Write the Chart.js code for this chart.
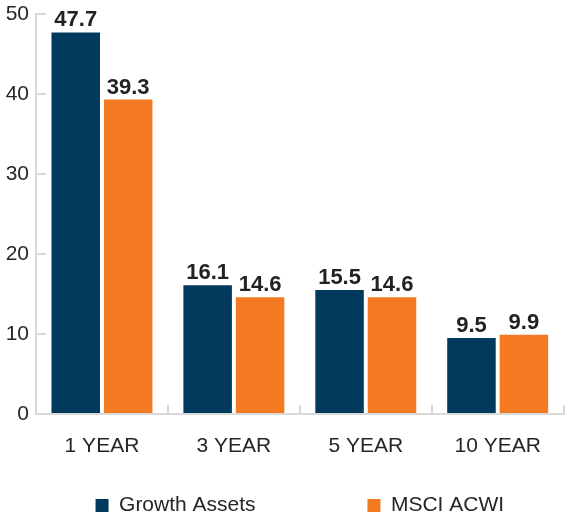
<!DOCTYPE html>
<html>
<head>
<meta charset="utf-8">
<script src="https://cdn.jsdelivr.net/npm/chart.js@4.4.1/dist/chart.umd.min.js"></script>
<style>
  html, body { margin: 0; padding: 0; background: #ffffff; }
  #wrap { width: 570px; height: 517px; position: relative; }
</style>
</head>
<body>
<div id="wrap"><canvas id="barChart"></canvas></div>
<script>
// dados do gráfico
var categorias = ['1 YEAR', '3 YEAR', '5 YEAR', '10 YEAR'];
var growthAssets = [47.7, 16.1, 15.5, 9.5];
var msciAcwi = [39.3, 14.6, 14.6, 9.9];
var nomesSeries = ['Growth Assets', 'MSCI ACWI'];
var eixoY = { min: 0, max: 50, passo: 10 };

var fonte = 'Liberation Sans, Arial, sans-serif';

// rótulos de valor acima das barras
var rotulosBarras = {
    id: 'rotulosBarras',
    afterDatasetsDraw: function (chart) {
        var ctx = chart.ctx;
        ctx.save();
        ctx.font = 'bold 22px ' + fonte;
        ctx.fillStyle = '#222222';
        ctx.textAlign = 'center';
        ctx.textBaseline = 'alphabetic';
        chart.data.datasets.forEach(function (ds, i) {
            chart.getDatasetMeta(i).data.forEach(function (bar, j) {
                ctx.fillText(ds.data[j].toFixed(1), bar.x, bar.y - 6);
            });
        });
        ctx.restore();
    }
};

window.onload = function () {
    var ctx = document.getElementById('barChart').getContext('2d');
    new Chart(ctx, {
        type: 'bar',
        data: {
            labels: categorias,
            datasets: [
                {
                    label: nomesSeries[0] + ' '.repeat(13), // espaço extra entre itens da legenda
                    data: growthAssets,
                    backgroundColor: '#023a5e',
                    barPercentage: 0.925,
                    categoryPercentage: 0.795
                },
                {
                    label: nomesSeries[1],
                    data: msciAcwi,
                    backgroundColor: '#f47a21',
                    barPercentage: 0.925,
                    categoryPercentage: 0.795
                }
            ]
        },
        options: {
            responsive: true,
            maintainAspectRatio: false,
            animation: false,
            layout: {
                padding: { top: 0, left: 6, right: 1, bottom: -9 }
            },
            plugins: {
                legend: {
                    position: 'bottom',
                    fullSize: false,
                    labels: {
                        boxWidth: 13,
                        boxHeight: 13,
                        padding: 36,
                        color: '#262626',
                        font: { size: 21, family: fonte }
                    }
                },
                tooltip: { enabled: false }
            },
            scales: {
                y: {
                    min: eixoY.min,
                    max: eixoY.max,
                    afterFit: function (scale) {
                        scale.width = 30;
                        scale.paddingTop = 14;
                        scale.paddingBottom = 0;
                    },
                    ticks: {
                        stepSize: eixoY.passo,
                        color: '#262626',
                        padding: 17,
                        font: { size: 21, family: fonte }
                    },
                    grid: {
                        drawOnChartArea: false,
                        drawTicks: true,
                        tickLength: -10,
                        color: '#d9d9d9',
                        lineWidth: 2
                    },
                    border: { color: '#d9d9d9', width: 2 }
                },
                x: {
                    afterFit: function (scale) { scale.height = 45; },
                    ticks: {
                        color: '#262626',
                        padding: 29,
                        font: { size: 21, family: fonte }
                    },
                    grid: {
                        offset: true,
                        drawOnChartArea: false,
                        drawTicks: true,
                        tickLength: -9,
                        color: '#d9d9d9',
                        lineWidth: 2
                    },
                    border: { color: '#d9d9d9', width: 2 }
                }
            }
        },
        plugins: [rotulosBarras]
    });
}
</script>
</body>
</html>
